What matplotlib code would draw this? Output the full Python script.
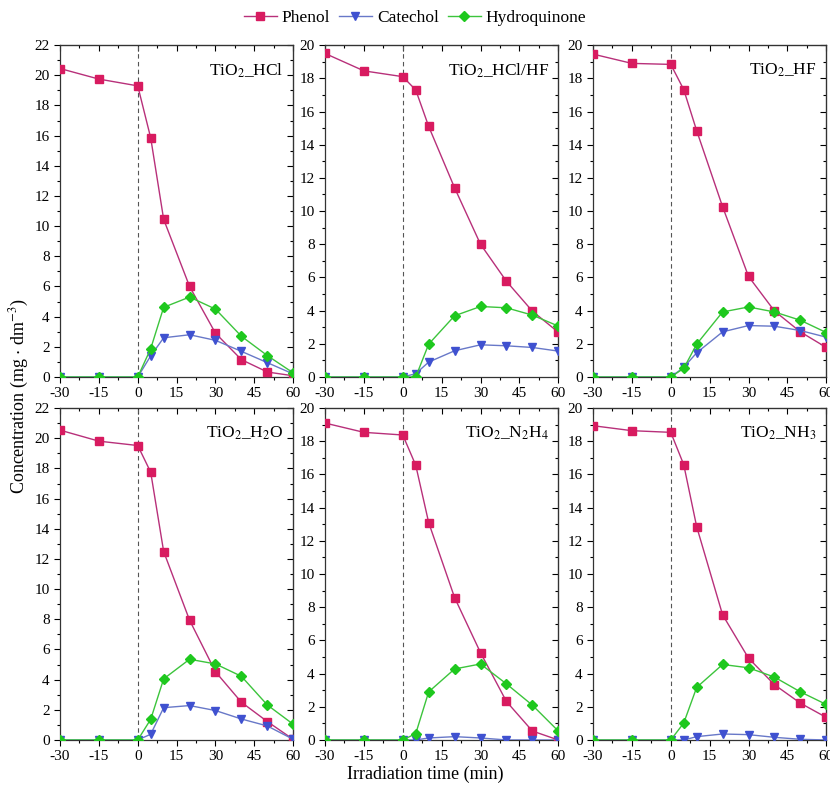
import numpy as np
import matplotlib
matplotlib.use('Agg')
import matplotlib.pyplot as plt
from matplotlib.ticker import MultipleLocator

plt.rcParams['font.family'] = ['Liberation Serif', 'DejaVu Serif']
plt.rcParams['mathtext.fontset'] = 'stix'
plt.rcParams['axes.unicode_minus'] = False

# irradiation time (min), same for every sample
time = [-30, -15, 0, 5, 10, 20, 30, 40, 50, 60]

samples = ['TiO$_2$_HCl', 'TiO$_2$_HCl/HF', 'TiO$_2$_HF',
           'TiO$_2$_H$_2$O', 'TiO$_2$_N$_2$H$_4$', 'TiO$_2$_NH$_3$']
ymax = [22, 20, 20, 22, 20, 20]

phenol = [
    [20.45, 19.75, 19.3, 15.85, 10.45, 6.0, 2.9, 1.15, 0.33, 0.08],
    [19.5, 18.45, 18.1, 17.3, 15.1, 11.4, 8.0, 5.77, 3.97, 2.7],
    [19.46, 18.9, 18.84, 17.32, 14.84, 10.26, 6.06, 3.98, 2.72, 1.78],
    [20.54, 19.81, 19.52, 17.75, 12.49, 7.94, 4.52, 2.5, 1.22, 0.04],
    [19.1, 18.54, 18.38, 16.56, 13.1, 8.58, 5.26, 2.32, 0.54, 0.0],
    [18.94, 18.64, 18.54, 16.59, 12.85, 7.54, 4.93, 3.33, 2.22, 1.36],
]
catechol = [
    [0, 0, 0, 1.4, 2.6, 2.8, 2.43, 1.7, 0.95, 0.2],
    [0, 0, 0, 0.2, 0.9, 1.58, 1.94, 1.88, 1.78, 1.56],
    [0, 0, 0, 0.58, 1.46, 2.72, 3.1, 3.06, 2.8, 2.4],
    [0, 0, 0, 0.38, 2.14, 2.28, 1.95, 1.39, 0.93, 0.04],
    [0, 0, 0, 0.0, 0.12, 0.2, 0.12, 0.0, 0.0, 0.0],
    [0, 0, 0, 0.0, 0.2, 0.36, 0.32, 0.16, 0.04, 0.0],
]
hydroquinone = [
    [0, 0, 0, 1.88, 4.62, 5.3, 4.5, 2.7, 1.42, 0.27],
    [0, 0, 0, 0.0, 1.98, 3.69, 4.25, 4.17, 3.73, 3.07],
    [0, 0, 0, 0.52, 1.98, 3.92, 4.22, 3.92, 3.42, 2.68],
    [0, 0, 0, 1.37, 4.05, 5.35, 5.04, 4.22, 2.32, 1.04],
    [0, 0, 0, 0.38, 2.9, 4.28, 4.58, 3.38, 2.1, 0.54],
    [0, 0, 0, 1.02, 3.17, 4.55, 4.35, 3.79, 2.9, 2.14],
]

fig = plt.figure(figsize=(8.3, 7.92), dpi=100)

lefts = [0.0723, 0.3916, 0.7145]
bottoms = [0.524, 0.0657]
w, h = 0.281, 0.419

for i in range(6):
    r, c = divmod(i, 3)
    ax = fig.add_axes([lefts[c], bottoms[r], w, h])

    ax.axvline(0, color='#555555', ls=(0, (4, 3)), lw=0.8, zorder=1)
    l1, = ax.plot(time, phenol[i], color='#b8307a', lw=1.0, marker='s', ms=5.5,
                  mfc='#d81b60', mec='#d81b60', label='Phenol', zorder=3)
    l2, = ax.plot(time, catechol[i], color='#6878c8', lw=1.0, marker='v', ms=5.5,
                  mfc='#3f51d0', mec='#3f51d0', label='Catechol', zorder=3)
    l3, = ax.plot(time, hydroquinone[i], color='#3cc43c', lw=1.0, marker='D', ms=5,
                  mfc='#1ec81e', mec='#1ec81e', label='Hydroquinone', zorder=3)

    ax.set_xlim(-30, 60)
    ax.set_ylim(0, ymax[i])
    ax.xaxis.set_major_locator(MultipleLocator(15))
    ax.xaxis.set_minor_locator(MultipleLocator(7.5))
    ax.yaxis.set_major_locator(MultipleLocator(2))
    ax.yaxis.set_minor_locator(MultipleLocator(1))
    ax.tick_params(which='both', direction='out', top=False, right=False,
                   labelsize=11, width=0.8)
    ax.tick_params(which='major', length=4)
    ax.tick_params(which='minor', length=2.5)
    # inward ticks on the top/right spines
    sec_x = ax.secondary_xaxis('top')
    sec_x.xaxis.set_major_locator(MultipleLocator(15))
    sec_x.xaxis.set_minor_locator(MultipleLocator(7.5))
    sec_x.tick_params(which='both', direction='in', labeltop=False, width=0.8)
    sec_x.tick_params(which='major', length=4)
    sec_x.tick_params(which='minor', length=2.5)
    sec_y = ax.secondary_yaxis('right')
    sec_y.yaxis.set_major_locator(MultipleLocator(2))
    sec_y.yaxis.set_minor_locator(MultipleLocator(1))
    sec_y.tick_params(which='both', direction='in', labelright=False, width=0.8)
    sec_y.tick_params(which='major', length=4)
    sec_y.tick_params(which='minor', length=2.5)
    for s in ax.spines.values():
        s.set_color('#333333')
        s.set_linewidth(0.9)

    ax.text(0.96, 0.95, samples[i], transform=ax.transAxes, ha='right', va='top',
            fontsize=12.5)

fig.legend([l1, l2, l3], ['Phenol', 'Catechol', 'Hydroquinone'], loc='center',
           bbox_to_anchor=(0.5, 0.977), ncol=3, frameon=False, fontsize=12.5,
           handlelength=1.9, columnspacing=0.5, handletextpad=0.3)

fig.text(0.024, 0.5, 'Concentration (mg $\\cdot$ dm$^{-3}$)', rotation=90,
         ha='center', va='center', fontsize=13)
fig.text(0.512, 0.022, 'Irradiation time (min)', ha='center', va='center',
         fontsize=13)

fig.savefig('out.png', dpi=100)
